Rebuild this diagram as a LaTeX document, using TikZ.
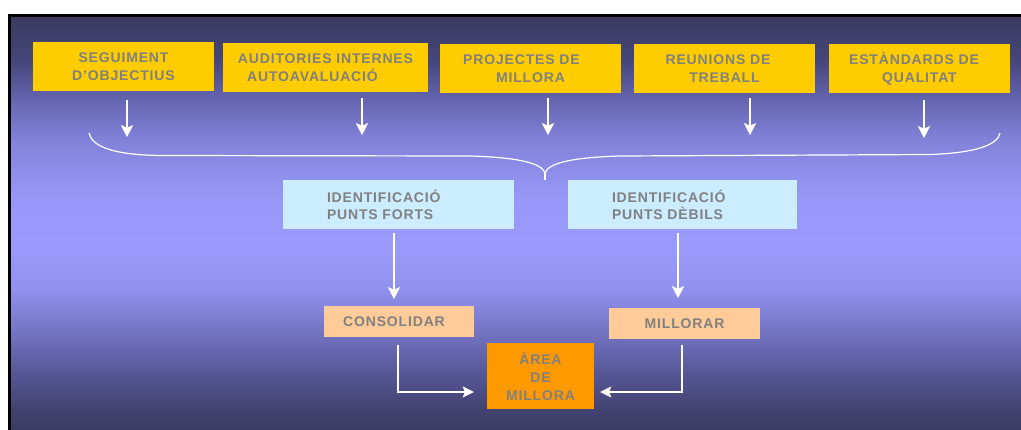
\documentclass[tikz,border=0pt]{standalone}
\usepackage{fontspec}
\newfontfamily\lbl{Liberation Sans}[LetterSpace=6]
\usetikzlibrary{arrows.meta}
\definecolor{ybox}{HTML}{FFCC00}
\definecolor{lblue}{HTML}{CCECFF}
\definecolor{peach}{HTML}{FFCC99}
\definecolor{orng}{HTML}{FF9900}
\definecolor{tgray}{HTML}{808080}
\definecolor{gA}{HTML}{3C3C62}
\definecolor{gB}{HTML}{424270}
\definecolor{gC}{HTML}{58589A}
\definecolor{gD}{HTML}{7575C5}
\definecolor{gE}{HTML}{9090EE}
\definecolor{gF}{HTML}{9A9AFA}
\definecolor{gG}{HTML}{9898F8}
\definecolor{gH}{HTML}{8282DA}
\definecolor{gI}{HTML}{6565B0}
\definecolor{gJ}{HTML}{45467A}
\definecolor{gK}{HTML}{3A3A5E}
\pgfdeclareverticalshading{bgshade}{100bp}{color(0bp)=(gA); color(25bp)=(gA); color(27.3bp)=(gB); color(32.14bp)=(gC); color(36.99bp)=(gD); color(41.83bp)=(gE); color(46.67bp)=(gF); color(52.72bp)=(gG); color(59.99bp)=(gH); color(64.83bp)=(gI); color(69.67bp)=(gJ); color(75bp)=(gK); color(100bp)=(gK)}
\tikzset{
  lbltext/.style={text=tgray, font=\lbl\bfseries\fontsize{14}{18}\selectfont},
  topbox/.style={lbltext, fill=ybox, minimum width=181pt, minimum height=49pt, inner sep=0pt, align=center},
  midbox/.style={lbltext, font=\lbl\bfseries\fontsize{14}{17}\selectfont, fill=lblue, minimum height=49pt, inner sep=0pt, align=left},
  lowbox/.style={lbltext, fill=peach, minimum height=31pt, inner sep=0pt},
  areabox/.style={lbltext, fill=orng, minimum width=107pt, minimum height=66pt, inner sep=0pt, align=center},
  arr/.style={draw=white, line width=2.6pt, -{Stealth[length=12pt,width=12pt,inset=2.5pt]}},
  arrb/.style={draw=white, line width=1.8pt, -{Stealth[length=11pt,width=11pt,inset=2pt]}},
  bracepath/.style={draw=white, line width=1.2pt}
}
\begin{document}
\begin{tikzpicture}[x=1pt,y=-1pt]
\useasboundingbox (0,0) rectangle (1021,429);
\fill[white] (0,0) rectangle (1021,429);
\fill[gA] (10,16) rectangle (1030,440);
\shade[shading=bgshade] (10,16) rectangle (1030,429);
\fill[black] (8,14) rectangle (11,440);
\fill[black] (8,14) rectangle (1030,16.5);

% top row
\node[topbox] (s1) at (123.5,66.5) {SEGUIMENT\\D’OBJECTIUS};
\node[topbox, minimum width=205pt] (s2) at (325.5,67.5) {AUDITORIES INTERNES\\AUTOAVALUACIÓ\hspace*{26pt}};
\node[topbox] (s3) at (530.5,68.5) {PROJECTES DE\hspace*{18pt}\\MILLORA};
\node[topbox] (s4) at (724.5,68.5) {REUNIONS DE\hspace*{13pt}\\TREBALL};
\node[topbox] (s5) at (919.5,68.5) {ESTÀNDARDS DE\hspace*{11pt}\\QUALITAT};

% top arrows
\draw[arr] ([xshift=3.5pt,yshift=-9pt]s1.south) -- ++(0,37);
\draw[arr] ([xshift=36.5pt,yshift=-6pt]s2.south) -- ++(0,37);
\draw[arr] ([xshift=17.5pt,yshift=-5pt]s3.south) -- ++(0,37);
\draw[arr] ([xshift=25.5pt,yshift=-5pt]s4.south) -- ++(0,37);
\draw[arr] ([xshift=4.5pt,yshift=-7pt]s5.south) -- ++(0,38);

% brace
\coordinate (bl) at (89,133);
\coordinate (br) at (1000,133);
\coordinate (bc) at (545,173);
\coordinate (bt) at (545,180);
\draw[bracepath] (bl) .. controls (92,147) and (115,155.5) .. (165,155.5)
  -- (470,156) .. controls (522,157.5) and (542,164) .. (bc)
  .. controls (548,164) and (568,157.5) .. (620,156)
  -- (930,154.5) .. controls (975,153) and (998,145) .. (br);
\draw[bracepath] (bc) -- (bt);

% middle row
\node[midbox, minimum width=231pt, text width=143pt] (i1) at (398.5,204.5) {IDENTIFICACIÓ\\PUNTS FORTS};
\node[midbox, minimum width=229pt, text width=141pt] (i2) at (682.5,204.5) {IDENTIFICACIÓ\\PUNTS DÈBILS};

% lower row
\node[lowbox, minimum width=150pt] (c) at (399,321.5) {CONSOLIDAR\hspace*{10pt}};
\node[lowbox, minimum width=151pt] (m) at (684.5,323.5) {MILLORAR};
\node[areabox] (a) at (540.5,376) {ÀREA\\DE\\MILLORA};

% arrows
\draw[arr] ([xshift=-4.5pt,yshift=-4pt]i1.south) -- ++(0,66);
\draw[arr] ([xshift=-4.5pt,yshift=-4pt]i2.south) -- ++(0,65);
\draw[arrb] ([xshift=-1pt,yshift=-8pt]c.south) |- ([xshift=-13pt,yshift=-16pt]a.west);
\draw[arrb] ([xshift=-2.5pt,yshift=-6pt]m.south) |- ([xshift=6pt,yshift=-16pt]a.east);
\end{tikzpicture}
\end{document}
